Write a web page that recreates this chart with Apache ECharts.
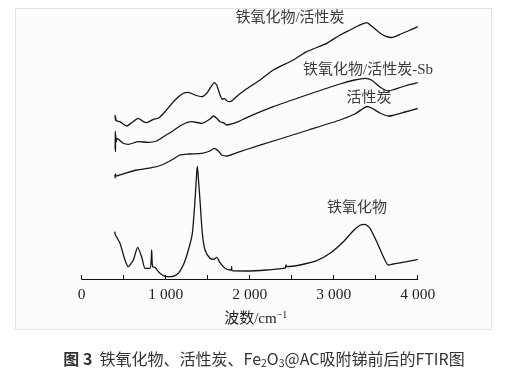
<!DOCTYPE html>
<html>
<head>
<meta charset="utf-8">
<script src="https://cdn.jsdelivr.net/npm/echarts@6/dist/echarts.min.js"></script>
<style>
html,body{margin:0;padding:0;background:#fff;}
#c{width:529px;height:371px;}
</style>
</head>
<body>
<div id="c"></div>
<script>
// Wavenumber tick labels (cm^-1)
var tickLabels = ['0', '1 000', '2 000', '3 000', '4 000'];

// Series names
var seriesNames = ['铁氧化物/活性炭', '铁氧化物/活性炭-Sb', '活性炭', '铁氧化物'];

// Curve: 铁氧化物/活性炭 (wavenumber, relative intensity)
var feAcX = [398,400,403,410,455,495,536,595,674,733,774,853,912,992,1111,1210,1270,1349,1429,1488,1540,1579,1607,1647,1674,1698,1726,1765,1865,1944,2123,2281,2520,2679,2917,3075,3194,3300,3393,3450,3550,3631,3690,3800,3900,4000];
var feAcY = [164,159,162,158.5,157.3,155,153,156.3,160.7,157.3,156.3,159.7,160.7,167.3,179,185.7,186.7,184,182.3,185.7,192.3,196.3,194,184,179.7,180.7,178.3,177.3,184,189,199,209,219,227.3,235.7,244,249,253.5,256.3,253,246,242.3,241.5,245,248.5,252.3];

// Curve: 铁氧化物/活性炭-Sb
var feAcSbX = [398,400,402,405,410,420,495,555,674,793,893,972,1071,1190,1309,1429,1527,1567,1607,1647,1686,1726,1865,1944,2281,2679,3075,3250,3373,3450,3550,3650,3700,3850,4000];
var feAcSbY = [130,147.7,127.3,144,137,140.7,135.7,134.7,137.3,136.7,138,142.3,147.3,154,157.3,155.7,160,163,160.7,157.3,156.3,154,157.3,160.7,172.3,184,195,199,200.7,199,192,188,189,193,196.3];

// Curve: 活性炭
var acX = [395,398,402,410,515,655,833,952,1071,1170,1270,1429,1527,1579,1627,1667,1726,1825,1944,2321,2700,3075,3250,3350,3393,3450,3550,3650,3700,3850,4000];
var acY = [104,101,105,103,105.7,109,111.3,114,119,124,125,125.7,128,130.7,128,124,123,125.7,129,139,149,159,165,170.5,172.5,171,166,163,163.5,167,170.5];

// Curve: 铁氧化物
var feX = [393,402,456,515,555,615,666,714,754,813,828,833,838,845,873,932,1012,1080,1150,1210,1270,1317,1349,1368,1377,1386,1408,1436,1468,1527,1570,1607,1646,1706,1765,1781,1785,1790,1964,2202,2400,2425,2432,2445,2599,2798,2956,3115,3234,3313,3373,3432,3512,3591,3650,3710,3869,4000];
var feY = [47.3,44,35.7,19,12.3,19,31.7,22.3,10.7,10.7,20,29,18,12.3,11.7,5.7,2.3,2.5,5.7,14,29,45.7,79,105,112.5,104,79,45.7,29,20.7,19.7,21.7,16.3,10.7,9,9,12.3,8.3,8,9,10.7,11,14,12.3,14,18.3,25.7,37.3,48.3,53.7,54.7,50.7,37.3,22.3,14,15,17.3,19.7];

function zip(xs, ys) { return xs.map(function (x, i) { return [x, ys[i]]; }); }

var chart = echarts.init(document.getElementById('c'), null, {renderer: 'canvas'});
var serif = "'Liberation Serif','Noto Sans CJK SC',serif";
var labelColor = '#3a3a3a';

function lineSeries(name, xs, ys) {
  return {
    name: name, type: 'line', data: zip(xs, ys), showSymbol: false,
    smooth: 0.2, lineStyle: {color: '#151515', width: 1.3}, silent: true, animation: false
  };
}

chart.setOption({
  animation: false,
  backgroundColor: '#ffffff',
  grid: {left: 81.7, right: 111.3, top: 0, bottom: 92, containLabel: false},
  xAxis: {
    type: 'value', min: 0, max: 4000, interval: 500,
    axisLine: {lineStyle: {color: '#111', width: 1}},
    axisTick: {inside: true, length: 4, lineStyle: {color: '#111'}},
    splitLine: {show: false},
    axisLabel: {
      margin: 8, color: '#222', fontFamily: serif, fontSize: 15.5,
      formatter: function (v) { return v % 1000 === 0 ? tickLabels[v / 1000] : ''; }
    },
    name: '波数/cm{sup|−1}',
    nameLocation: 'middle', nameGap: 31,
    nameTextStyle: {
      color: '#222', fontFamily: serif, fontSize: 15, padding: [0, 0, 0, 12],
      rich: {sup: {fontSize: 10, fontFamily: serif, color: '#222', padding: [0, 0, 9, 0]}}
    }
  },
  yAxis: {type: 'value', min: 0, max: 279, show: false},
  graphic: [
    {type: 'rect', z: -10, shape: {x: 15.5, y: 8.5, width: 476, height: 321},
     style: {fill: '#fcfcfc', stroke: '#dde3e6', lineWidth: 1}, silent: true},
    {type: 'text', x: 290, y: 18, style: {text: seriesNames[0], fill: labelColor, font: '15px ' + serif, textAlign: 'center', textVerticalAlign: 'middle'}},
    {type: 'text', x: 303, y: 70, style: {text: seriesNames[1], fill: labelColor, font: '15px ' + serif, textAlign: 'left', textVerticalAlign: 'middle'}},
    {type: 'text', x: 369, y: 98, style: {text: seriesNames[2], fill: labelColor, font: '15px ' + serif, textAlign: 'center', textVerticalAlign: 'middle'}},
    {type: 'text', x: 357, y: 208, style: {text: seriesNames[3], fill: labelColor, font: '15px ' + serif, textAlign: 'center', textVerticalAlign: 'middle'}},
    {type: 'text', x: 264, y: 359, style: {
      text: '{b|图 3}  铁氧化物、活性炭、Fe{sub|2}O{sub|3}@AC吸附锑前后的FTIR图',
      fill: '#333', font: "16px 'Noto Sans CJK SC'", textAlign: 'center', textVerticalAlign: 'middle',
      rich: {
        b: {fontWeight: 'bold', fontSize: 16, fontFamily: 'Noto Sans CJK SC', fill: '#333'},
        sub: {fontSize: 10.5, fontFamily: 'Noto Sans CJK SC', fill: '#333', padding: [8, 0, 0, 0]}
      }
    }}
  ],
  series: [
    lineSeries(seriesNames[0], feAcX, feAcY),
    lineSeries(seriesNames[1], feAcSbX, feAcSbY),
    lineSeries(seriesNames[2], acX, acY),
    lineSeries(seriesNames[3], feX, feY)
  ]
});
</script>
</body>
</html>
